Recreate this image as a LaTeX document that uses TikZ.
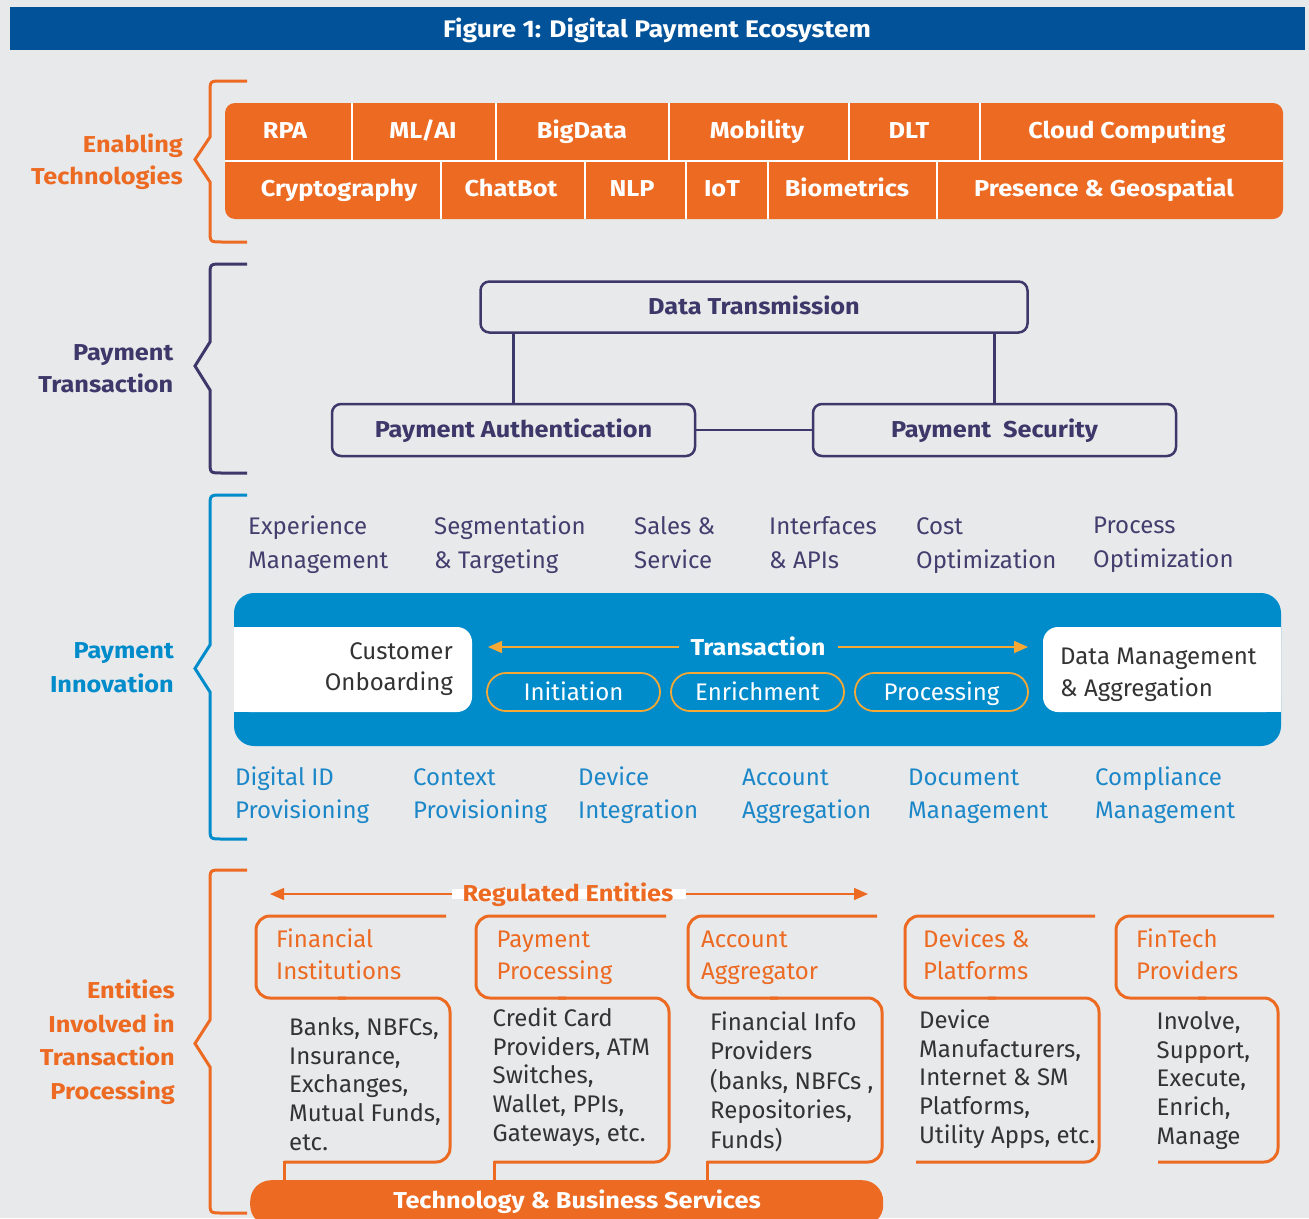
\documentclass[tikz,border=0pt]{standalone}
\usepackage{fontspec}
\setmainfont{Fira Sans}[BoldFeatures={FakeStretch=1.1}]
\usetikzlibrary{arrows.meta}
\definecolor{bg}{HTML}{E8E9EB}
\definecolor{titleblue}{HTML}{02529A}
\definecolor{orng}{HTML}{EC6A22}
\definecolor{purp}{HTML}{3C3869}
\definecolor{band}{HTML}{008BCB}
\definecolor{bluetxt}{HTML}{1B87C8}
\definecolor{yel}{HTML}{F5A834}
\definecolor{darktxt}{HTML}{333333}
\definecolor{purptxt}{HTML}{433E6E}
\newcommand{\secbrace}[5]{%
  \draw[#1, line width=3, line join=miter] (247,#2) -- (222,#2) .. controls (210,#2) .. (210,#2+12) -- (210,#3) -- (195,{(#3+#4)/2}) -- (210,#4) -- (210,#5-12) .. controls (210,#5) .. (222,#5) -- (247,#5);}
\begin{document}
\begin{tikzpicture}[x=1pt,y=-1pt,
  sect/.style={font=\bfseries\fontsize{23}{32}\selectfont, align=right, anchor=north east, inner sep=0},
  techtxt/.style={font=\bfseries\fontsize{23}{26}\selectfont, text=white, anchor=base, inner sep=0},
  ptbox/.style={draw=purp, line width=2.5, rounded corners=9, font=\bfseries\fontsize{23}{26}\selectfont, text=purp, inner sep=0, text height=15.8, text depth=0},
  ptline/.style={draw=purp, line width=2.5},
  innov/.style={font=\fontsize{24}{33.5}\selectfont, align=left, anchor=north west, inner sep=0},
  pill/.style={draw=yel, line width=1.8, rounded corners=19, minimum width=173, minimum height=38, text=white, font=\fontsize{24}{28}\selectfont, inner sep=0, text height=16.5, text depth=0},
  yarrow/.style={draw=yel, line width=1.5, -{Triangle[length=14pt,width=12pt]}},
  oarrow/.style={draw=orng, line width=1.5, -{Triangle[length=14pt,width=12pt]}},
  ent/.style={draw=orng, line width=3, rounded corners=14},
  enthead/.style={font=\fontsize{24}{32}\selectfont, text=orng, align=left, anchor=north west, inner sep=0},
  entbody/.style={font=\fontsize{24}{28.8}\selectfont, text=darktxt, align=left, anchor=north west, inner sep=0},
]
\clip (0,0) rectangle (1309,1218);
\fill[bg] (0,0) rectangle (1309,1218);
% title
\fill[titleblue] (10,7) rectangle (1305,50);
\node[font=\bfseries\fontsize{24}{28}\selectfont, text=white, anchor=base, inner sep=0] (title) at (657,37.5) {Figure 1: Digital Payment Ecosystem};

% braces
\secbrace{orng}{81}{137}{182}{242}
\secbrace{purp}{264}{342}{390}{473}
\secbrace{band}{495}{645}{692}{839}
\secbrace{orng}{870}{1020}{1067}{1213}

% section labels
\node[sect, text=orng] (l1) at (183,130) {\strut Enabling\\\strut Technologies};
\node[sect, text=purp] (l2) at (173.5,337.6) {\strut Payment\\\strut Transaction};
\node[sect, text=band, font=\bfseries\fontsize{23}{34.5}\selectfont] (l3) at (174,634) {\strut Payment\\\strut Innovation};
\node[sect, text=orng, font=\bfseries\fontsize{23}{33.7}\selectfont] (l4) at (175,974.5) {\strut Entities\\\strut Involved in\\\strut Transaction\\\strut Processing};

% technologies grid
\fill[orng, rounded corners=10] (225,103) rectangle (1283,219);
\draw[white, line width=2] (225,161) -- (1283,161);
\foreach \xx in {352,496,669,849,980} \draw[white, line width=2] (\xx,103) -- (\xx,161);
\foreach \xx in {441,585,686,768,937} \draw[white, line width=2] (\xx,161) -- (\xx,219);
\node[techtxt] (t1) at (285,138) {RPA};
\node[techtxt] (t2) at (423,138) {ML/AI};
\node[techtxt] (t3) at (582,138) {BigData};
\node[techtxt] (t4) at (757,138) {Mobility};
\node[techtxt] (t5) at (909,138) {DLT};
\node[techtxt] (t6) at (1127,138) {Cloud Computing};
\node[techtxt] (t7) at (339,196) {Cryptography};
\node[techtxt] (t8) at (511,196) {ChatBot};
\node[techtxt] (t9) at (632,196) {NLP};
\node[techtxt] (t10) at (722,196) {IoT};
\node[techtxt] (t11) at (847,196) {Biometrics};
\node[techtxt] (t12) at (1104,196) {Presence \& Geospatial};

% payment transaction
\node[ptbox, minimum width=547, minimum height=51] (dt) at (754,307) {Data Transmission};
\node[ptbox, minimum width=363, minimum height=52] (pa) at (513.5,430) {Payment Authentication};
\node[ptbox, minimum width=363, minimum height=52] (ps) at (994.5,430) {Payment\ \ Security};
\draw[ptline] (pa.north) -- (pa.north |- dt.south);
\draw[ptline] (ps.north) -- (ps.north |- dt.south);
\draw[ptline] (pa.east) -- (ps.west);

% innovation top labels
\node[innov, text=purptxt] (i1) at (248,511) {\strut Experience\\\strut Management};
\node[innov, text=purptxt] (i2) at (434,511) {\strut Segmentation\\\strut \& Targeting};
\node[innov, text=purptxt] (i3) at (634,511) {\strut Sales \&\\\strut Service};
\node[innov, text=purptxt] (i4) at (769,511) {\strut Interfaces\\\strut \& APIs};
\node[innov, text=purptxt] (i5) at (916,511) {\strut Cost\\\strut Optimization};
\node[innov, text=purptxt] (i6) at (1093,510) {\strut Process\\\strut Optimization};

% band
\fill[band, rounded corners=20] (234,593) rectangle (1281,746);
\fill[white, rounded corners=15] (234,627) rectangle (472,712);
\fill[white] (234,627) rectangle (260,712);
\fill[white, rounded corners=15] (1043,627) rectangle (1281,712);
\fill[white] (1255,627) rectangle (1281,712);
\node[font=\fontsize{24}{31.5}\selectfont, text=darktxt, align=right, anchor=north east, inner sep=0] (co) at (453,637) {\strut Customer\\\strut Onboarding};
\node[font=\fontsize{24}{32}\selectfont, text=darktxt, align=left, anchor=north west, inner sep=0] (dm) at (1060,642) {\strut Data Management\\\strut \& Aggregation};
\node[font=\bfseries\fontsize{23}{26}\selectfont, text=white, anchor=base, inner sep=0] (trans) at (758,655) {Transaction};
\coordinate (lt) at (488,647);
\coordinate (rt) at (1028,647);
\draw[yarrow] ([xshift=-11pt]trans.west |- lt) -- (lt);
\draw[yarrow] ([xshift=12pt]trans.east |- rt) -- (rt);
\node[pill] (ini) at (573.5,692) {Initiation};
\node[pill] (enr) at (757.5,692) {Enrichment};
\node[pill] (pro) at (941.5,692) {Processing};

% innovation bottom labels
\node[innov, text=bluetxt] (b1) at (235,761.5) {\strut Digital ID\\\strut Provisioning};
\node[innov, text=bluetxt] (b2) at (413,761.5) {\strut Context\\\strut Provisioning};
\node[innov, text=bluetxt] (b3) at (578,761.5) {\strut Device\\\strut Integration};
\node[innov, text=bluetxt] (b4) at (742,761.5) {\strut Account\\\strut Aggregation};
\node[innov, text=bluetxt] (b5) at (908,761.5) {\strut Document\\\strut Management};
\node[innov, text=bluetxt] (b6) at (1095,761.5) {\strut Compliance\\\strut Management};

% regulated entities
\fill[white] (452,889) rectangle (686,899);
\node[font=\bfseries\fontsize{23}{26}\selectfont, text=orng, anchor=base, inner sep=0] (reg) at (568,901) {Regulated Entities};
\coordinate (rl) at (270,894);
\coordinate (rr) at (868,894);
\draw[oarrow] (452,894) -- (rl);
\draw[oarrow] (686,894) -- (rr);

% technology & business services bar
\node[fill=orng, rounded corners=21, minimum width=633, minimum height=46, inner sep=0, anchor=north west] (tbs) at (250,1180) {};
\node[font=\bfseries\fontsize{23}{26}\selectfont, text=white, anchor=base, inner sep=0] (tbsl) at (577,1208) {Technology \& Business Services};

% entity boxes
% Financial Institutions
\draw[ent] (446,916) -- (256,916) -- (256,998) -- (346,998);
\draw[ent] (338,998) -- (450,998) -- (450,1162) -- (284,1162);
\coordinate (e1) at (284,1162);
\draw[orng, line width=3, line cap=rect] (e1) -- (e1 |- tbs.north);
\node[enthead] (h1) at (276,924.6) {\strut Financial\\\strut Institutions};
\node[entbody] (d1) at (289,1015) {\strut Banks, NBFCs,\\\strut Insurance,\\\strut Exchanges,\\\strut Mutual Funds,\\\strut etc.};
% Payment Processing
\draw[ent] (666,916) -- (476,916) -- (476,998) -- (566,998);
\draw[ent] (558,998) -- (669,998) -- (669,1162) -- (494,1162);
\coordinate (e2) at (494,1162);
\draw[orng, line width=3, line cap=rect] (e2) -- (e2 |- tbs.north);
\node[enthead] (h2) at (496.5,924.6) {\strut Payment\\\strut Processing};
\node[entbody] (d2) at (492.5,1006) {\strut Credit Card\\\strut Providers, ATM\\\strut Switches,\\\strut Wallet, PPIs,\\\strut Gateways, etc.};
% Account Aggregator
\draw[ent] (877,916) -- (688,916) -- (688,998) -- (778,998);
\draw[ent] (770,998) -- (882,998) -- (882,1162) -- (707,1162);
\coordinate (e3) at (707,1162);
\draw[orng, line width=3, line cap=rect] (e3) -- (e3 |- tbs.north);
\node[enthead] (h3) at (701,924.6) {\strut Account\\\strut Aggregator};
\node[entbody] (d3) at (710,1010.5) {\strut Financial Info\\\strut Providers\\\strut (banks, NBFCs ,\\\strut Repositories,\\\strut Funds)};
% Devices & Platforms
\draw[ent] (1095,916) -- (905,916) -- (905,998) -- (996,998);
\draw[ent] (988,998) -- (1099,998) -- (1099,1162) -- (916,1162);
\node[enthead] (h4) at (923,924.6) {\strut Devices \&\\\strut Platforms};
\node[entbody] (d4) at (919,1008) {\strut Device\\\strut Manufacturers,\\\strut Internet \& SM\\\strut Platforms,\\\strut Utility Apps, etc.};
% FinTech Providers
\draw[ent] (1274,916) -- (1116,916) -- (1116,998) -- (1206,998);
\draw[ent] (1198,998) -- (1278,998) -- (1278,1162) -- (1158,1162);
\node[enthead] (h5) at (1136,924.6) {\strut FinTech\\\strut Providers};
\node[entbody] (d5) at (1156.5,1009) {\strut Involve,\\\strut Support,\\\strut Execute,\\\strut Enrich,\\\strut Manage};
\end{tikzpicture}
\end{document}
